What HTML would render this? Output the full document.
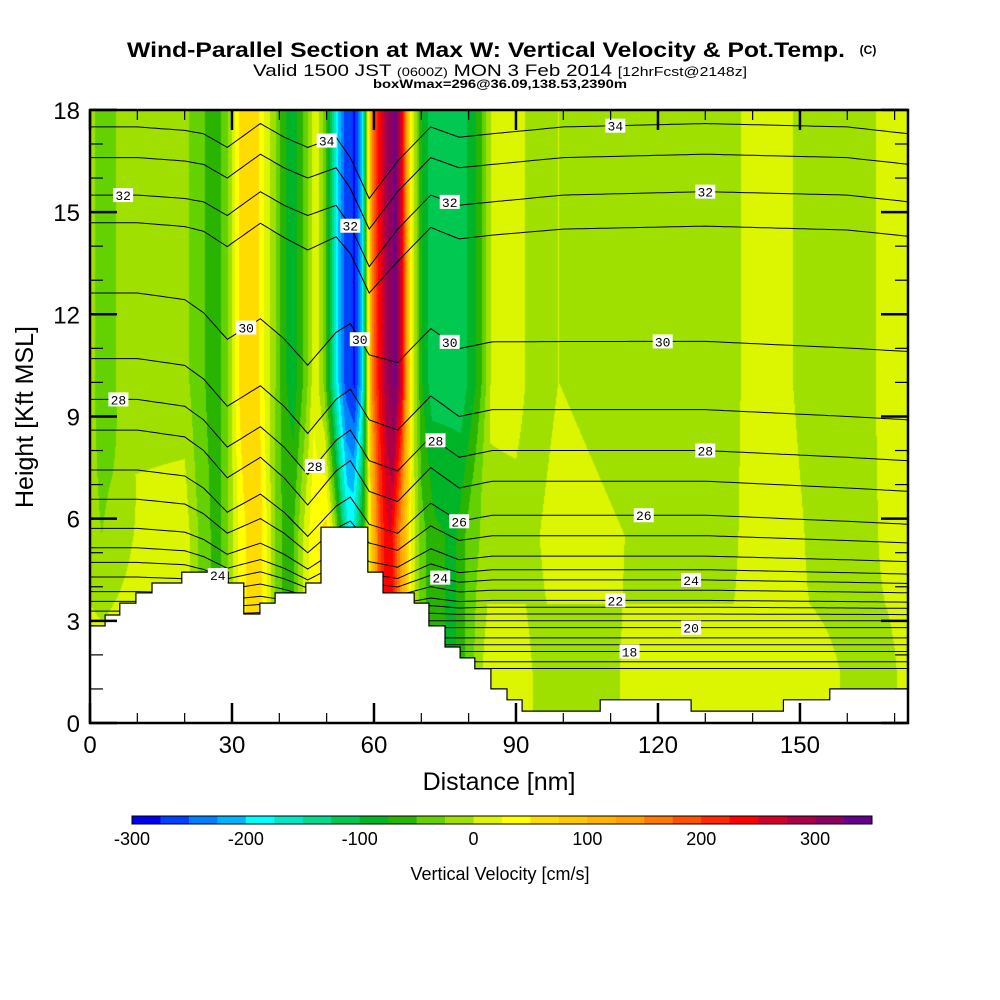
<!DOCTYPE html>
<html><head><meta charset="utf-8">
<style>
html,body{margin:0;padding:0;background:#fff;}
#wrap{position:relative;width:1000px;height:1000px;overflow:hidden;font-family:"Liberation Sans",sans-serif;}
#field{position:absolute;left:90px;top:110px;}
#over{position:absolute;left:0;top:0;}
</style></head>
<body>
<div id="wrap">
<canvas id="field" width="818" height="613"></canvas>
<svg id="over" width="1000" height="1000" xmlns="http://www.w3.org/2000/svg">
  <defs><clipPath id="pc"><rect x="90" y="110" width="818" height="613"/></clipPath></defs>
  <text x="486" y="57" text-anchor="middle" font-size="21" font-weight="bold" textLength="718" lengthAdjust="spacingAndGlyphs">Wind-Parallel Section at Max W: Vertical Velocity &amp; Pot.Temp.</text>
  <text x="868" y="54" text-anchor="middle" font-size="12" font-weight="bold">(C)</text>
  <text x="500" y="76" text-anchor="middle" font-size="17" textLength="494" lengthAdjust="spacingAndGlyphs">Valid 1500 JST <tspan font-size="12">(0600Z)</tspan> MON 3 Feb 2014 <tspan font-size="13">[12hrFcst@2148z]</tspan></text>
  <text x="500" y="88" text-anchor="middle" font-size="12" font-weight="bold" textLength="254" lengthAdjust="spacingAndGlyphs">boxWmax=296@36.09,138.53,2390m</text>
  <g id="contours" clip-path="url(#pc)"></g>
  <g id="terrain"></g>
  <g id="labels" clip-path="url(#pc)"></g>
  <rect x="90" y="110" width="818" height="613" fill="none" stroke="#000" stroke-width="2.5"/>
  <g id="axes"></g>
  <text x="499" y="790" text-anchor="middle" font-size="25">Distance [nm]</text>
  <text transform="translate(33,417) rotate(-90)" text-anchor="middle" font-size="25">Height [Kft MSL]</text>
  <g id="cbar"></g>
  <text x="500" y="880" text-anchor="middle" font-size="18">Vertical Velocity [cm/s]</text>
</svg>
</div>
<script>
// ---- data ----
const colorBins = ["#0000f0","#0040ff","#0080ff","#00b4ff","#00ffff","#00e8c8","#00dc8c","#00c850","#00b428","#28b400","#64d200","#a0e000","#dcf500","#ffff00","#ffdc00","#ffc800","#ffb400","#ffa000","#ff7800","#ff5000","#ff2800","#ff0000","#d20028","#aa0046","#8c0064","#64008c"];
const cbarTicks = [-300,-200,-100,0,100,200,300];
const rowHeights = [1.5, 5.5, 10];
const posLow = [0,2.5,5,12,20,24,27,29.5,31,33,36,38,39.5,41.5,43,45,47,50,52,53.5,54.5,55.5,57,58.5,59.5,61,62.5,63.5,65,66.5,68,70,73,77,80,84,89,92,95,97,111,113,136,138,150,152,165,168,173];
const valLow = [15,15,15,15,15,-40,-60,-20,20,50,60,10,-40,-60,-50,0,40,60,-20,-120,-170,-170,-100,-20,80,180,240,250,170,100,20,-40,-70,-80,-40,15,15,15,-15,-15,-15,15,15,15,15,15,-15,-15,15];
const posMid = [0,2.5,5,12,20,24,27,29.5,31,33,36,38,39.5,41.5,43,45,47,50,52,53.5,54.5,55.5,57,58.5,59.5,61,62.5,63.5,65,66.5,68,70,73,77,80,84,89,92,94,96,112,114,136,138,150,152,165,168,173];
const valMid = [-15,-25,-15,10,15,-40,-60,-20,20,50,60,10,-40,-60,-50,0,40,60,-20,-120,-170,-170,-100,-20,80,180,240,250,170,100,20,-40,-70,-80,-40,-15,-15,-15,-15,15,15,-15,-15,15,15,-15,-15,15,15];
const posTop = [0,2.5,4.5,6,20,23,27,29,30.5,32,35,37,39,41,43,45.5,47.5,49.5,51,52.5,54,56,57.5,58.5,59.5,61,62.5,64.5,66,67,68,70,72,79,82,85,91,93,98.9,98.95,99.05,99.1,136,139,147,150,165,167,173];
const valTop = [-15,-40,-40,-15,-15,-45,-60,-30,20,70,70,20,-20,-70,-90,-40,20,-30,-120,-200,-260,-280,-200,-20,150,230,290,330,250,120,20,-70,-110,-110,-70,10,15,-15,-15,15,15,-15,-15,15,15,-15,-15,15,15];
const terrainDist = [0,3.2,6.3,9.7,13.1,19.4,29.2,32.5,35.9,39.1,45.6,48.8,58.7,61.9,68.5,71.6,75,78.2,81.3,84.7,88.1,91.3,107.8,127,146.5,156.3];
const terrainHgt = [2.85,3.17,3.52,3.82,4.11,4.43,4.11,3.2,3.52,3.82,4.11,5.75,4.43,3.82,3.52,2.85,2.23,1.91,1.59,1.0,0.68,0.35,0.68,0.35,0.68,1.0];
const lineBase = [17.5,16.6,15.5,14.5,11.2,9.2,8.0,7.1,6.1,5.5,4.9,4.5,4.2,3.9,3.6,3.4,3.2,3.0,2.8,2.5,2.3,2.1,1.8,1.6];
const dispNodes = [0,10,20,24,29,36,41,46,52,55,59,65,72,78,85,100,130,160,173];
const dispUpper = [0,0,-0.1,-0.2,-0.6,0.1,-0.3,-0.6,-0.3,-0.9,-2.1,-1.0,0.0,-0.3,-0.2,0,0.1,0,-0.2];
const dispLower = [1.5,1.5,1.3,0.9,0.1,0.7,0.1,-0.7,0.3,0.6,-0.3,-0.6,0.4,-0.2,0.0,0,0,-0.2,-0.3];
const labelText = ["34","34","32","32","32","32","30","30","30","30","28","28","28","28","26","26","24","24","24","22","20","18"];
const labelLine = [0,0,2,2,2,2,4,4,4,4,6,6,6,6,8,8,12,12,12,14,18,21];
const labelDist = [50,111,7,55,76,130,33,57,76,121,6,47.5,73,130,78,117,27,74,127,111,127,114];
const xTicks = [0,30,60,90,120,150];
const yTicks = [0,3,6,9,12,15,18];

// ---- scales ----
const X = d => 90 + d*4.733;
const Y = h => 723 - h*34.06;
const NS = "http://www.w3.org/2000/svg";
function mk(tag, attrs, parent){const e=document.createElementNS(NS,tag);for(const k in attrs)e.setAttribute(k,attrs[k]);parent.appendChild(e);return e;}
function interp(xs, ys, x){
  if(x<=xs[0])return ys[0];
  for(let i=1;i<xs.length;i++){if(x<=xs[i]){const t=(x-xs[i-1])/(xs[i]-xs[i-1]||1);return ys[i-1]+t*(ys[i]-ys[i-1]);}}
  return ys[ys.length-1];
}
function colorFor(w){let b=Math.floor((w+300)/25);b=Math.max(0,Math.min(25,b));return colorBins[b];}

// ---- field ----
const rowsP=[posLow,posMid,posTop], rowsV=[valLow,valMid,valTop];
(function(){
  const cv=document.getElementById('field');const ctx=cv.getContext('2d');
  const img=ctx.createImageData(818,613);const cache={};
  function rgb(c){if(!cache[c])cache[c]=[parseInt(c.substr(1,2),16),parseInt(c.substr(3,2),16),parseInt(c.substr(5,2),16)];return cache[c];}
  for(let py=0;py<613;py++){
    const h=(723-(110+py+0.5))/34.06;
    let P=null,V=null;
    if(h>rowHeights[0]&&h<rowHeights[2]){
      const i=h<rowHeights[1]?0:1;const t=(h-rowHeights[i])/(rowHeights[i+1]-rowHeights[i]);
      P=[];V=[];for(let k=0;k<rowsP[i].length;k++){P.push(rowsP[i][k]+t*(rowsP[i+1][k]-rowsP[i][k]));V.push(rowsV[i][k]+t*(rowsV[i+1][k]-rowsV[i][k]));}
    } else if(h<=rowHeights[0]){P=rowsP[0];V=rowsV[0];} else {P=rowsP[2];V=rowsV[2];}
    for(let px=0;px<818;px++){
      const d=(px+0.5)/4.733;const c=rgb(colorFor(interp(P,V,d)));
      const o=(py*818+px)*4;img.data[o]=c[0];img.data[o+1]=c[1];img.data[o+2]=c[2];img.data[o+3]=255;
    }
  }
  ctx.putImageData(img,0,0);
})();

// ---- contours ----
function lineH(idx,d){
  const base=lineBase[idx];const t=Math.max(0,Math.min(1,(base-11)/4));
  const f=Math.max(0,Math.min(1,(base-3)/3.5));
  return base+(1-t)*f*interp(dispNodes,dispLower,d)+t*interp(dispNodes,dispUpper,d);
}
const cg=document.getElementById('contours');
lineBase.forEach((b,idx)=>{
  let pts=[];for(let d=0;d<=173;d+=1){pts.push(X(d).toFixed(1)+','+Y(lineH(idx,d)).toFixed(1));}
  const pl=mk('polyline',{points:pts.join(' '),fill:'none',stroke:'#000','stroke-width':'1'},cg);
  
  
});

// ---- terrain ----
const tg=document.getElementById('terrain');
(function(){
  let pts=[[X(0),Y(0)]];
  for(let i=0;i<terrainDist.length;i++){
    const x0=X(terrainDist[i]);const x1=i+1<terrainDist.length?X(terrainDist[i+1]):908;
    pts.push([x0,Y(terrainHgt[i])]);pts.push([x1,Y(terrainHgt[i])]);
  }
  pts.push([908,723]);
  const s=pts.map(p=>p[0].toFixed(1)+','+p[1].toFixed(1)).join(' ');
  const pg=mk('polygon',{points:s,fill:'#fff',stroke:'#000','stroke-width':'1.2'},tg);
  
  
})();

// ---- labels ----
const lg=document.getElementById('labels');
labelText.forEach((t,i)=>{
  const x=X(labelDist[i]);const y=Y(lineH(labelLine[i],labelDist[i]));
  const g=mk('g',{},lg);
  
  
  mk('rect',{x:x-10,y:y-7,width:20,height:14,fill:'#fff'},g);
  const tx=mk('text',{x:x,y:y+5,'text-anchor':'middle','font-size':'13','font-family':'Liberation Mono, monospace'},g);
  tx.textContent=t;
});

// ---- axes ----
const ag=document.getElementById('axes');
for(let d=0;d<=170;d+=10){
  const major=d%30===0;const L=major?20:10;
  mk('line',{x1:X(d),x2:X(d),y1:723,y2:723-L,stroke:'#000','stroke-width':major?2.5:1.2},ag);
  mk('line',{x1:X(d),x2:X(d),y1:110,y2:110+L,stroke:'#000','stroke-width':major?2.5:1.2},ag);
}
xTicks.forEach(v=>{
  const t=mk('text',{x:X(v),y:753,'text-anchor':'middle','font-size':'24'},ag);
  
  
  t.textContent=v;
});
for(let h=0;h<=18;h+=1){
  const major=h%3===0;const L=major?27:13;
  mk('line',{x1:90,x2:90+L,y1:Y(h),y2:Y(h),stroke:'#000','stroke-width':major?2.5:1.2},ag);
  mk('line',{x1:908,x2:908-L,y1:Y(h),y2:Y(h),stroke:'#000','stroke-width':major?2.5:1.2},ag);
}
yTicks.forEach(v=>{
  const t=mk('text',{x:80,y:Y(v)+9,'text-anchor':'end','font-size':'24'},ag);
  
  
  t.textContent=v;
});

// ---- colorbar ----
const cb=document.getElementById('cbar');
const bw=740/colorBins.length;
colorBins.forEach((c,i)=>{
  const r=mk('rect',{x:132+i*bw,y:816,width:bw+0.3,height:8,fill:c},cb);
  
  
});
mk('rect',{x:132,y:816,width:740,height:8,fill:'none',stroke:'#000','stroke-width':'1'},cb);
cbarTicks.forEach(v=>{
  const t=mk('text',{x:132+(v+300)/25*bw,y:845,'text-anchor':'middle','font-size':'18'},cb);
  
  
  t.textContent=v;
});
</script>
</body></html>
